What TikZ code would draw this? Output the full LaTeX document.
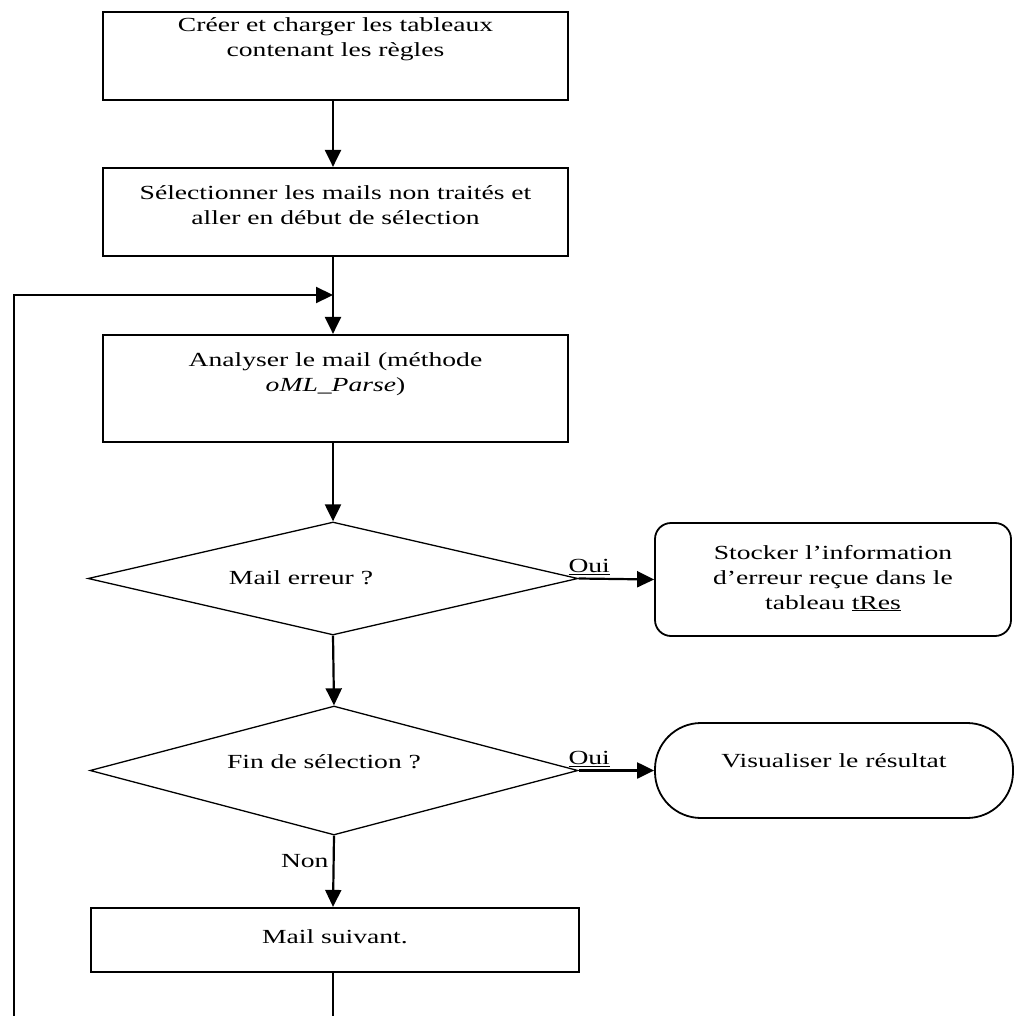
\documentclass[tikz,border=0pt]{standalone}
\usepackage{fontspec}
\setmainfont{Liberation Serif}[FakeStretch=1.38]
\usetikzlibrary{shapes.geometric,arrows.meta}
\newcommand\toptext[4]{\parbox[c][#1][t]{#2}{\centering\rule{0pt}{#3}#4}}
\begin{document}
\begin{tikzpicture}[x=1pt,y=-1pt,
  every node/.style={font=\fontsize{20}{25}\selectfont},
  stepbox/.style={draw, rectangle, line width=2.2pt, inner sep=0pt},
  endbox/.style={draw, rectangle, line width=1.8pt, inner sep=0pt},
  decision/.style={draw, diamond, shape aspect=4.3, line width=1.3pt, inner sep=0pt},
  conn/.style={line width=2.2pt},
  arr/.style={line width=2.2pt, -{Triangle[length=17pt,width=16pt]}},
  lbl/.style={inner sep=1pt}
]
\useasboundingbox[fill=white] (0,0) rectangle (1019,1016);

\node[stepbox] (b1) at (335.5,56) {\toptext{88pt}{465pt}{20pt}{Créer et charger les tableaux\\contenant les règles}};
\node[stepbox] (b2) at (335.5,212) {\toptext{88pt}{465pt}{32pt}{Sélectionner les mails non traités et\\aller en début de sélection}};
\node[stepbox] (b3) at (335.5,388.5) {\toptext{107pt}{465pt}{31pt}{Analyser le mail (méthode\\\textit{oML\_Parse})}};
\node[decision, minimum width=490pt, minimum height=113pt] (d1) at (333,578.5) {\raisebox{1pt}{Mail erreur ?}\hspace*{64pt}};
\node[endbox, rounded corners=16pt] (b5) at (833,579.5) {\toptext{113pt}{356pt}{36pt}{Stocker l’information\\d’erreur reçue dans le\\tableau \underline{tRes}}};
\node[decision, minimum width=488pt, minimum height=129pt] (d2) at (334,770.5) {\raisebox{18pt}{Fin de sélection ?}\hspace*{20pt}};
\node[endbox, rounded corners=46pt] (b6) at (834,770.5) {\toptext{95pt}{358pt}{44pt}{Visualiser le résultat}};
\node[stepbox] (b4) at (335,940) {\toptext{64pt}{488pt}{35pt}{Mail suivant.}};

\coordinate (j) at (333,295);
\coordinate (bot1) at (333,1017);
\coordinate (bot2) at (14,1017);
\coordinate (lc) at (14,295);

\draw[arr] (b1.south -| 333,0) -- (b2.north -| 333,0);
\draw[arr] (b2.south -| 333,0) -- (b3.north -| 333,0);
\draw[arr] (b3.south -| 333,0) -- (d1.north);
\draw[arr] (d1.south) -- (d2.north);
\draw[arr] (d2.south) -- node[lbl, pos=0.36, left=3pt] {Non} (b4.north -| 333,0);
\draw[arr] (d1.east) -- node[lbl, pos=0.14, above=2pt] {\underline{Oui}} (b5.west);
\draw[arr] (d2.east) -- node[lbl, pos=0.14, above=2pt] {\underline{Oui}} (b6.west);
\draw[conn] (b4.south -| 333,0) -- (bot1);
\draw[arr] (bot2) -- (lc) -- (j);
\end{tikzpicture}
\end{document}
